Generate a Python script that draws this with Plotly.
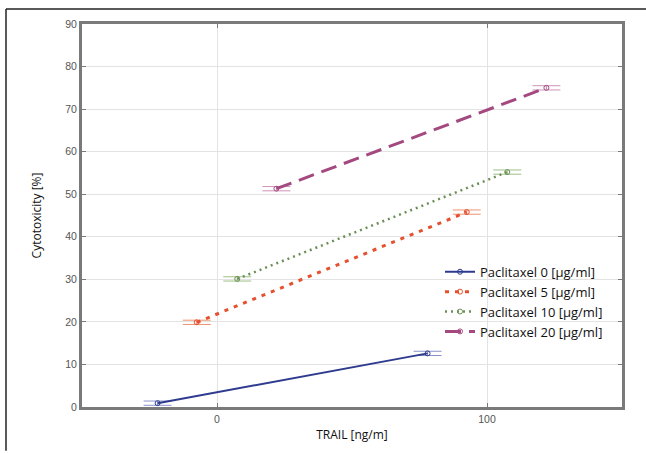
import plotly.graph_objects as go

# Data
trail_doses = [0, 100]
series_names = ["Paclitaxel 0 [µg/ml]", "Paclitaxel 5 [µg/ml]",
                "Paclitaxel 10 [µg/ml]", "Paclitaxel 20 [µg/ml]"]
cytotox_0 = [0.9, 12.6]
cytotox_5 = [19.9, 45.8]
cytotox_10 = [30.1, 55.2]
cytotox_20 = [51.3, 75.0]
errors_0 = [0.5, 0.5]
errors_5 = [0.5, 0.5]
errors_10 = [0.5, 0.5]
errors_20 = [0.5, 0.5]
y_ticks = [0, 10, 20, 30, 40, 50, 60, 70, 80, 90]

# Styling (horizontal jitter so series do not overlap)
offsets = [-22, -7.5, 7.5, 22]
colors = ["#2f3b8f", "#e5502e", "#6b8f55", "#a4497f"]
err_colors = ["#8a93c8", "#f0916f", "#9fbf86", "#cf94b8"]
dashes = ["solid", "4px,6px", "2px,4px", "16px,8px"]
widths = [2, 3, 2.5, 3]

values = [cytotox_0, cytotox_5, cytotox_10, cytotox_20]
errs = [errors_0, errors_5, errors_10, errors_20]

fig = go.Figure()
for i in range(4):
    fig.add_trace(go.Scatter(
        x=[d + offsets[i] for d in trail_doses],
        y=values[i],
        name=series_names[i],
        mode="lines+markers",
        line=dict(color=colors[i], width=widths[i], dash=dashes[i]),
        marker=dict(symbol="circle-open", size=5, color=colors[i], line=dict(width=1)),
        error_y=dict(type="data", array=errs[i], visible=True,
                     color=err_colors[i], width=14, thickness=1),
    ))

W, H = 646, 453
ml, mr, mt, mb = 82, 24, 24, 44
pw, ph = W - ml - mr, H - mt - mb

def px(x):
    return (x - ml) / pw

def py(y):
    return (H - mb - y) / ph

fig.update_layout(
    width=W, height=H,
    margin=dict(l=ml, r=mr, t=mt, b=mb),
    paper_bgcolor="white", plot_bgcolor="white",
    font=dict(family="Liberation Sans, Arial, sans-serif", color="#222"),
    showlegend=True,
    legend=dict(x=px(440), y=py(258), xanchor="left", yanchor="top",
                bgcolor="rgba(0,0,0,0)", font=dict(family="Open Sans, sans-serif", size=13, color="#111"),
                tracegroupgap=0, itemwidth=30),
    xaxis=dict(range=[-50, 150], tickvals=trail_doses, ticktext=["0", "100"],
               showgrid=True, gridcolor="#e3e3e3", gridwidth=1, zeroline=False,
               showline=True, linecolor="#7a7a7a", linewidth=3, mirror="ticks",
               ticks="inside", ticklen=4, tickcolor="#7a7a7a",
               tickfont=dict(size=10.5, color="#555"),
               title=dict(text="TRAIL [ng/m]", font=dict(family="Open Sans, sans-serif", size=12, color="#111"), standoff=8)),
    yaxis=dict(range=[0, 90], tickvals=y_ticks,
               showgrid=True, gridcolor="#e3e3e3", gridwidth=1, zeroline=False,
               showline=True, linecolor="#7a7a7a", linewidth=3, mirror="ticks",
               ticks="inside", ticklen=4, tickcolor="#7a7a7a",
               tickfont=dict(size=10.5, color="#555"),
               title=dict(text="Cytotoxicity [%]", font=dict(family="Open Sans, sans-serif", size=12, color="#111"), standoff=22)),
    shapes=[
        dict(type="line", xref="paper", yref="paper", x0=px(6), x1=px(646), y0=py(9), y1=py(9),
             line=dict(color="#222", width=1.5)),
        dict(type="line", xref="paper", yref="paper", x0=px(6), x1=px(6), y0=py(9), y1=py(453),
             line=dict(color="#222", width=1.5)),
    ],
)

fig.write_html("out.html")
